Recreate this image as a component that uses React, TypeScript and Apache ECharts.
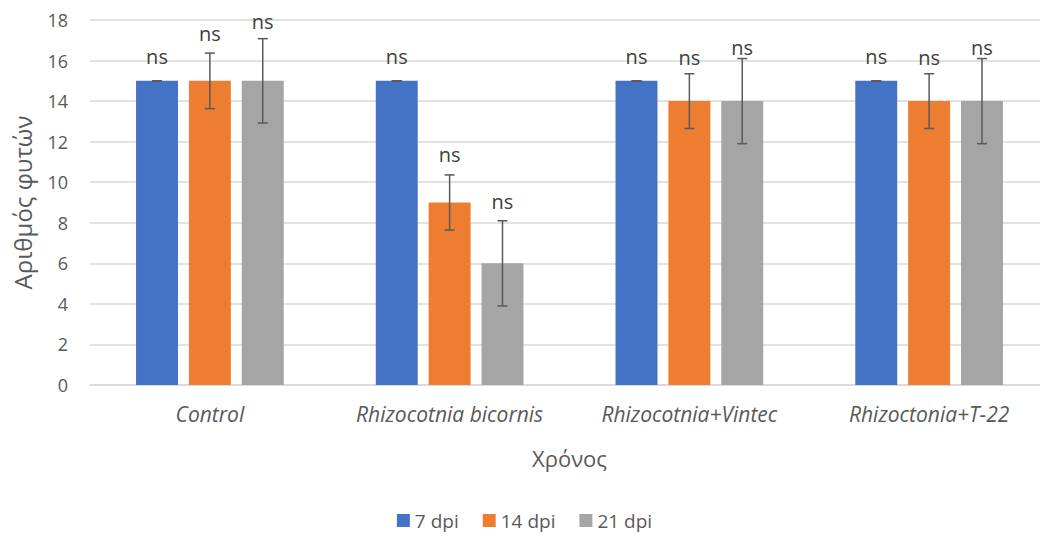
import React, { useEffect, useRef } from "react";
import * as echarts from "echarts";

const categories = ["Control", "Rhizocotnia bicornis", "Rhizocotnia+Vintec", "Rhizoctonia+T-22"];
const seriesNames = ["7 dpi", "14 dpi", "21 dpi"];
const values7 = [15, 15, 15, 15];
const values14 = [15, 9, 14, 14];
const values21 = [15, 6, 14, 14];
const err7 = [0, 0, 0, 0];
const err14 = [1.37, 1.36, 1.35, 1.35];
const err21 = [2.08, 2.1, 2.1, 2.1];
const sigLabels = ["ns", "ns", "ns"];
// value-axis height where each "ns" label sits
const nsAt7 = [16.2, 16.2, 16.2, 16.2];
const nsAt14 = [17.35, 11.35, 16.15, 16.15];
const nsAt21 = [17.95, 9.05, 16.65, 16.65];
const yTicks = { min: 0, max: 18, interval: 2 };

const colors = ["#4472C4", "#ED7D31", "#A5A5A5"];
const FONT = "'Open Sans', 'Noto Sans', sans-serif";
const TXT = "#595959";

export default function App() {
  const ref = useRef<HTMLDivElement>(null);
  useEffect(() => {
    if (!ref.current) return;
    const chart = echarts.init(ref.current, null, { renderer: "svg" });
    const allValues = [values7, values14, values21];
    const allErr = [err7, err14, err21];
    const allNs = [nsAt7, nsAt14, nsAt21];
    const barFrac = 0.175;
    const gapFrac = 0.26;

    const bars = allValues.map((vals, i) => ({
      name: seriesNames[i],
      type: "bar",
      data: vals,
      barWidth: "17.5%",
      barGap: "26%",
      itemStyle: { color: colors[i] },
      z: 2,
    }));

    const errs = allValues.map((vals, i) => ({
      name: seriesNames[i] + " err",
      type: "custom",
      z: 5,
      silent: true,
      data: vals.map((v, j) => [j, v - allErr[i][j], v + allErr[i][j], allNs[i][j]]),
      renderItem: (params: any, api: any) => {
        const idx = api.value(0);
        const band = api.size([1, 0])[0];
        const offset = (i - 1) * band * barFrac * (1 + gapFrac);
        const lo = api.coord([idx, api.value(1)]);
        const hi = api.coord([idx, api.value(2)]);
        const lab = api.coord([idx, api.value(3)]);
        const x = lo[0] + offset;
        const cap = 5;
        const style = { stroke: "#595959", lineWidth: 1.5 };
        return {
          type: "group",
          children: [
            { type: "line", shape: { x1: x, y1: lo[1], x2: x, y2: hi[1] }, style },
            { type: "line", shape: { x1: x - cap, y1: lo[1], x2: x + cap, y2: lo[1] }, style },
            { type: "line", shape: { x1: x - cap, y1: hi[1], x2: x + cap, y2: hi[1] }, style },
            {
              type: "text",
              style: {
                x,
                y: lab[1],
                text: sigLabels[i],
                fill: "#404040",
                font: `20px ${FONT}`,
                align: "center",
                verticalAlign: "middle",
              },
            },
          ],
        };
      },
    }));

    chart.setOption({
      animation: false,
      textStyle: { fontFamily: FONT },
      grid: { left: 90, right: 0, top: 20, bottom: 153 },
      legend: {
        data: seriesNames,
        bottom: 3,
        left: "center",
        icon: "rect",
        itemWidth: 13,
        itemHeight: 13,
        itemGap: 24,
        itemStyle: { borderWidth: 0 },
        textStyle: { color: TXT, fontSize: 19, fontFamily: FONT },
      },
      xAxis: {
        type: "category",
        data: categories,
        name: "Χρόνος",
        nameLocation: "middle",
        nameGap: 62,
        nameTextStyle: { color: TXT, fontSize: 22, fontFamily: FONT },
        axisTick: { show: false },
        axisLine: { lineStyle: { color: "#d9d9d9", width: 1.5 } },
        axisLabel: {
          color: TXT,
          fontSize: 21,
          fontStyle: "italic",
          margin: 18,
          fontFamily: FONT,
          interval: 0,
          hideOverlap: false,
        },
      },
      yAxis: {
        type: "value",
        min: yTicks.min,
        max: yTicks.max,
        interval: yTicks.interval,
        name: "Αριθμός φυτών",
        nameLocation: "middle",
        nameGap: 56,
        nameTextStyle: { color: TXT, fontSize: 24, fontFamily: FONT },
        axisLine: { show: false },
        axisTick: { show: false },
        axisLabel: { color: TXT, fontSize: 18, margin: 22, fontFamily: FONT },
        splitLine: { lineStyle: { color: "#d9d9d9", width: 1.5 } },
      },
      series: [...bars, ...errs],
    });
    return () => chart.dispose();
  }, []);
  return (
    <div
      ref={ref}
      style={{ position: "fixed", left: 0, top: 0, width: 1049, height: 538, background: "#fff" }}
    />
  );
}
